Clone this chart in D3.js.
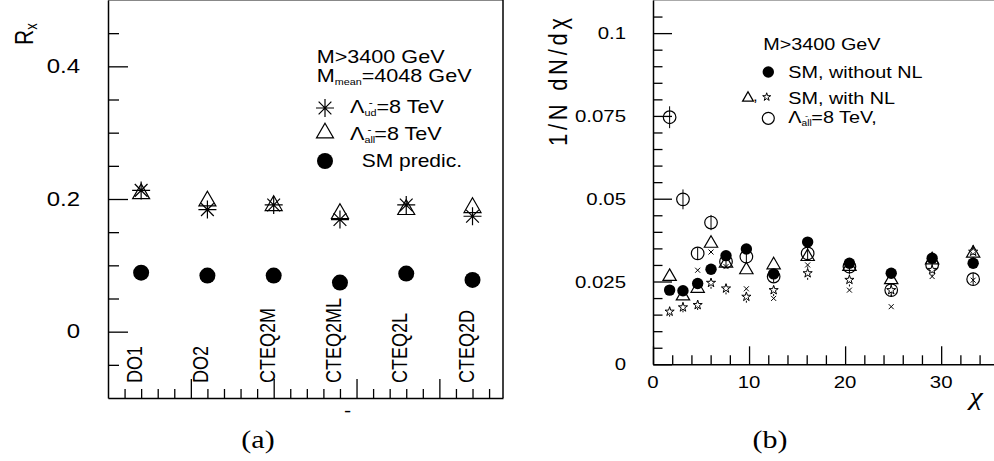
<!DOCTYPE html>
<html>
<head>
<meta charset="utf-8">
<script src="https://cdn.jsdelivr.net/npm/d3@7"></script>
<style>
  body { margin: 0; background: #fff; }
  svg { display: block; }
  text { font-family: "Liberation Sans", Arial, sans-serif; fill: #000; }
</style>
</head>
<body>
<div id="chart"></div>
<script>
// ---- (a) R_x for each PDF set ----
const pdfSets = ["DO1", "DO2", "CTEQ2M", "CTEQ2ML", "CTEQ2L", "CTEQ2D"];
const rxLambdaUd = [0.213, 0.184, 0.191, 0.169, 0.191, 0.174];
const rxLambdaAll = [0.208, 0.197, 0.190, 0.178, 0.184, 0.187];
const rxSM = [0.089, 0.0846, 0.0846, 0.074, 0.0876, 0.078];
const rxTicks = [0, 0.2, 0.4];
const rxTickLabels = ["0", "0.2", "0.4"];

// ---- (b) chi distribution, M > 3400 GeV ----
const chiBins = [1.73, 3.12, 4.65, 6.04, 7.6, 9.72, 12.56, 16.1, 20.45, 24.8, 29.06, 33.33];
const smNoNL = [0.0224, 0.0222, 0.0244, 0.0287, 0.0328, 0.0348, 0.0273, 0.0369, 0.0305, 0.0275, 0.0320, 0.0305];
const smNL_tri = [0.0265, 0.0206, 0.0229, 0.0365, 0.0305, 0.0285, 0.0300, 0.0325, 0.0295, 0.0255, 0.0315, 0.0335];
const smNL_star = [0.0159, 0.0172, 0.0179, 0.0246, 0.0229, 0.0204, 0.0224, 0.0275, 0.0255, 0.0224, 0.0285, 0.0340];
const smNL_alt = [null, null, 0.0284, 0.0339, 0.0295, 0.0228, 0.0199, 0.0300, 0.0224, 0.0174, 0.0265, 0.0254];
const starErr = [0.0015, 0.0015, 0.0015, 0.0018, 0.0018, 0.0018, 0.0018, 0.0020, 0.0020, 0.0020, 0.0020, 0.0022];
const lamAll = [0.0746, 0.0498, 0.0335, 0.0428, 0.0310, 0.0325, 0.0265, 0.0335, 0.0295, 0.0224, 0.0300, 0.0257];
const lamAllErr = [0.0033, 0.0030, 0.0018, 0.0023, 0.0018, 0.0018, 0.0018, 0.0020, 0.0020, 0.0020, 0.0020, 0.0020];
const chiTicks = [0, 10, 20, 30];
const dndxTicks = [0, 0.025, 0.05, 0.075, 0.1];
const dndxTickLabels = ["0", "0.025", "0.05", "0.075", "0.1"];

const W = 994, H = 461;
const SX = 1.2;   // glyphs in this figure are drawn a bit wide

const svg = d3.select("#chart").append("svg")
    .attr("width", W).attr("height", H);

// text helper: stretched horizontally, optional vertical orientation
function label(x, y, size, anchor, rotate) {
    const g = svg.append("g")
        .attr("transform", `translate(${x},${y}) scale(${SX},1)` + (rotate ? " rotate(-90)" : ""));
    return g.append("text")
        .attr("text-anchor", anchor || "start")
        .style("font-size", size + "px");
}

function rich(t, parts) {
    parts.forEach(p => {
        const s = t.append("tspan").text(p.t).style("font-size", p.size + "px");
        if (p.dx) s.attr("dx", p.dx);
        if (p.dy) s.attr("dy", p.dy);
    });
    return t;
}

// 8-armed asterisk marker
const symbolAsterisk = {
    draw(ctx, size) {
        const r = Math.sqrt(size) / 2;
        const d = r * Math.SQRT1_2;
        ctx.moveTo(-r, 0); ctx.lineTo(r, 0);
        ctx.moveTo(0, -r); ctx.lineTo(0, r);
        ctx.moveTo(-d, -d); ctx.lineTo(d, d);
        ctx.moveTo(-d, d); ctx.lineTo(d, -d);
    }
};

const sym = (type, size) => d3.symbol().type(type).size(size)();

function axisStyle(g) {
    g.selectAll("path.domain").attr("stroke", "#000").attr("stroke-width", 1.5);
    g.selectAll(".tick line").attr("stroke", "#000").attr("stroke-width", 1.3);
    g.selectAll(".tick text").remove();
}

// ================= panel (a) =================
const aLeft = 108, aRight = 503, aTop = 0, aBottom = 398;
const xa = d3.scaleLinear().domain([0, 5.96]).range([aLeft, aRight]);
const ya = d3.scaleLinear().domain([-0.1, 0.5]).range([aBottom, aTop]);

// frame
svg.append("line").attr("x1", aLeft).attr("x2", aRight).attr("y1", 0.5).attr("y2", 0.5)
    .attr("stroke", "#888").attr("stroke-width", 1);
svg.append("line").attr("x1", aRight).attr("x2", aRight).attr("y1", 0).attr("y2", aBottom)
    .attr("stroke", "#000").attr("stroke-width", 1.5);

svg.append("g").attr("transform", `translate(${aLeft},0)`)
    .call(d3.axisLeft(ya).tickValues(rxTicks).tickSize(-20).tickSizeOuter(0))
    .call(axisStyle);
svg.append("g").attr("transform", `translate(${aLeft},0)`)
    .call(d3.axisLeft(ya).tickValues(d3.range(-0.05, 0.49, 0.05).filter(v => Math.abs(v / 0.2 - Math.round(v / 0.2)) > 1e-6))
        .tickSize(-11).tickSizeOuter(0))
    .call(axisStyle)
    .select("path.domain").remove();

svg.append("g").attr("transform", `translate(0,${aBottom})`)
    .call(d3.axisBottom(xa).tickValues([1.25, 2.5, 3.75, 5]).tickSize(-19).tickSizeOuter(0))
    .call(axisStyle);
svg.append("g").attr("transform", `translate(0,${aBottom})`)
    .call(d3.axisBottom(xa).tickValues(d3.range(0.25, 5.9, 0.25).filter(v => Math.abs(v / 1.25 - Math.round(v / 1.25)) > 1e-6))
        .tickSize(-9).tickSizeOuter(0))
    .call(axisStyle)
    .select("path.domain").remove();

rxTicks.forEach((v, i) => label(80, ya(v) + 6.5, 20, "end").text(rxTickLabels[i]));

pdfSets.forEach((name, i) => label(xa(i + 0.5) + 1, 383, 18, "start", true).text(name));

rich(label(33, 45, 21, "start", true), [
    { t: "R", size: 21 },
    { t: "x", size: 13, dy: 3 }
]);
label(347.7, 417, 18, "middle").text("-");

// markers
const ga = svg.append("g");
ga.selectAll(".tri").data(rxLambdaAll).join("path")
    .attr("transform", (d, i) => `translate(${xa(i + 0.5)},${ya(d)})`)
    .attr("d", sym(d3.symbolTriangle, 125))
    .attr("fill", "none").attr("stroke", "#000").attr("stroke-width", 1.2);
ga.selectAll(".ast").data(rxLambdaUd).join("path")
    .attr("transform", (d, i) => `translate(${xa(i + 0.5)},${ya(d)})`)
    .attr("d", sym(symbolAsterisk, 324))
    .attr("fill", "none").attr("stroke", "#000").attr("stroke-width", 1.2);
ga.selectAll(".sm").data(rxSM).join("circle")
    .attr("cx", (d, i) => xa(i + 0.5)).attr("cy", d => ya(d))
    .attr("r", 8).attr("fill", "#000");

// legend (a)
label(316.7, 63, 18).text("M>3400 GeV");
rich(label(316.7, 82, 18), [
    { t: "M", size: 18 },
    { t: "mean", size: 9, dy: 3 },
    { t: "=4048 GeV", size: 18, dy: -3 }
]);
svg.append("path").attr("transform", "translate(325,108)")
    .attr("d", sym(symbolAsterisk, 324))
    .attr("fill", "none").attr("stroke", "#000").attr("stroke-width", 1.2);
rich(label(350, 113, 18), [
    { t: "Λ", size: 18 },
    { t: "ud", size: 9, dy: 3 },
    { t: "-", size: 10, dx: -6.5, dy: -10 },
    { t: "=8 TeV", size: 18, dx: 3.2, dy: 7 }
]);
svg.append("path").attr("transform", "translate(325,133)")
    .attr("d", sym(d3.symbolTriangle, 125))
    .attr("fill", "none").attr("stroke", "#000").attr("stroke-width", 1.2);
rich(label(350, 140, 18), [
    { t: "Λ", size: 18 },
    { t: "all", size: 9, dy: 3 },
    { t: "-", size: 10, dx: -6.5, dy: -10 },
    { t: "=8 TeV", size: 18, dx: 2.4, dy: 7 }
]);
svg.append("circle").attr("cx", 325).attr("cy", 161).attr("r", 8).attr("fill", "#000");
label(361.7, 167, 17.5).text("SM predic.");

// ================= panel (b) =================
const bLeft = 653, bRight = 994, bBottom = 364.3;
const xb = d3.scaleLinear().domain([0, 35.5]).range([bLeft, bRight]);
const yb = d3.scaleLinear().domain([0, 0.11]).range([bBottom, 0]);

svg.append("line").attr("x1", bLeft).attr("x2", bRight).attr("y1", 0.5).attr("y2", 0.5)
    .attr("stroke", "#aaa").attr("stroke-width", 1);

svg.append("g").attr("transform", `translate(${bLeft},0)`)
    .call(d3.axisLeft(yb).tickValues(dndxTicks).tickSize(-19).tickSizeOuter(0))
    .call(axisStyle);
svg.append("g").attr("transform", `translate(${bLeft},0)`)
    .call(d3.axisLeft(yb).tickValues(d3.range(0.005, 0.109, 0.005).filter(v => Math.abs(v / 0.025 - Math.round(v / 0.025)) > 1e-6))
        .tickSize(-9.5).tickSizeOuter(0))
    .call(axisStyle)
    .select("path.domain").remove();

svg.append("g").attr("transform", `translate(0,${bBottom})`)
    .call(d3.axisBottom(xb).tickValues(chiTicks).tickSize(-18).tickSizeOuter(0))
    .call(axisStyle);
svg.append("g").attr("transform", `translate(0,${bBottom})`)
    .call(d3.axisBottom(xb).tickValues(d3.range(2, 35, 2).filter(v => v % 10 !== 0)).tickSize(-9).tickSizeOuter(0))
    .call(axisStyle)
    .select("path.domain").remove();

dndxTicks.forEach((v, i) => label(626, yb(v) + 6, 17, "end").text(dndxTickLabels[i]));
chiTicks.forEach(v => label(xb(v), 388, 17, "middle").text(String(v)));

label(566.7, 82, 22, "middle", true)
    .attr("textLength", 128).attr("lengthAdjust", "spacing")
    .text("1/N dN/dχ");
label(976, 405, 25, "middle")
    .style("font-family", "'Liberation Serif', serif").style("font-style", "italic")
    .text("χ");

const gb = svg.append("g");
const chiPts = (vals, errs) => vals.map((v, i) => ({ x: chiBins[i], v, e: errs ? errs[i] : 0 }))
    .filter(d => d.v !== null);

// error bars
gb.selectAll(".eb1").data(chiPts(lamAll, lamAllErr)).join("line")
    .attr("x1", d => xb(d.x)).attr("x2", d => xb(d.x))
    .attr("y1", d => yb(d.v - d.e)).attr("y2", d => yb(d.v + d.e))
    .attr("stroke", "#000").attr("stroke-width", 1);
gb.selectAll(".eb2").data(chiPts(smNL_star, starErr)).join("line")
    .attr("x1", d => xb(d.x)).attr("x2", d => xb(d.x))
    .attr("y1", d => yb(d.v - d.e)).attr("y2", d => yb(d.v + d.e))
    .attr("stroke", "#000").attr("stroke-width", 1).attr("stroke-dasharray", "2,2");

gb.selectAll(".oc").data(chiPts(lamAll)).join("circle")
    .attr("cx", d => xb(d.x)).attr("cy", d => yb(d.v)).attr("r", 6.3)
    .attr("fill", "none").attr("stroke", "#000").attr("stroke-width", 1.2);
gb.selectAll(".tr").data(chiPts(smNL_tri)).join("path")
    .attr("transform", d => `translate(${xb(d.x)},${yb(d.v)})`)
    .attr("d", sym(d3.symbolTriangle, 77))
    .attr("fill", "none").attr("stroke", "#000").attr("stroke-width", 1.2);
gb.selectAll(".xm").data(chiPts(smNL_alt)).join("path")
    .attr("transform", d => `translate(${xb(d.x)},${yb(d.v)})`)
    .attr("d", sym(d3.symbolTimes, 18))
    .attr("fill", "none").attr("stroke", "#000").attr("stroke-width", 1);
gb.selectAll(".st").data(chiPts(smNL_star)).join("path")
    .attr("transform", d => `translate(${xb(d.x)},${yb(d.v)})`)
    .attr("d", sym(d3.symbolStar, 26))
    .attr("fill", "#fff").attr("stroke", "#000").attr("stroke-width", 1);
gb.selectAll(".fc").data(chiPts(smNoNL)).join("circle")
    .attr("cx", d => xb(d.x)).attr("cy", d => yb(d.v)).attr("r", 5.7)
    .attr("fill", "#000");

// legend (b)
label(763.3, 50, 16.5).text("M>3400 GeV");
svg.append("circle").attr("cx", 768.3).attr("cy", 72).attr("r", 5.7).attr("fill", "#000");
label(788.3, 78.3, 16.5).text("SM, without NL");
svg.append("path").attr("transform", "translate(748,98)")
    .attr("d", sym(d3.symbolTriangle, 50))
    .attr("fill", "none").attr("stroke", "#000").attr("stroke-width", 1.3);
label(753, 101, 14).text(",");
svg.append("path").attr("transform", "translate(766.7,97)")
    .attr("d", sym(d3.symbolStar, 20))
    .attr("fill", "none").attr("stroke", "#000").attr("stroke-width", 1);
label(788.3, 104, 16.5).text("SM, with NL");
svg.append("circle").attr("cx", 768.3).attr("cy", 118.3).attr("r", 6)
    .attr("fill", "none").attr("stroke", "#000").attr("stroke-width", 1.2);
rich(label(788.3, 123.3, 16.5), [
    { t: "Λ", size: 16.5 },
    { t: "all", size: 8.5, dy: 3 },
    { t: "-", size: 8, dx: -5.5, dy: -8.5 },
    { t: "=8 TeV,", size: 16.5, dx: 2.5, dy: 5.5 }
]);

// panel captions
label(258, 448, 25, "middle").style("font-family", "'Liberation Serif', serif").text("(a)");
label(770, 448, 25, "middle").style("font-family", "'Liberation Serif', serif").text("(b)");
</script>
</body>
</html>
